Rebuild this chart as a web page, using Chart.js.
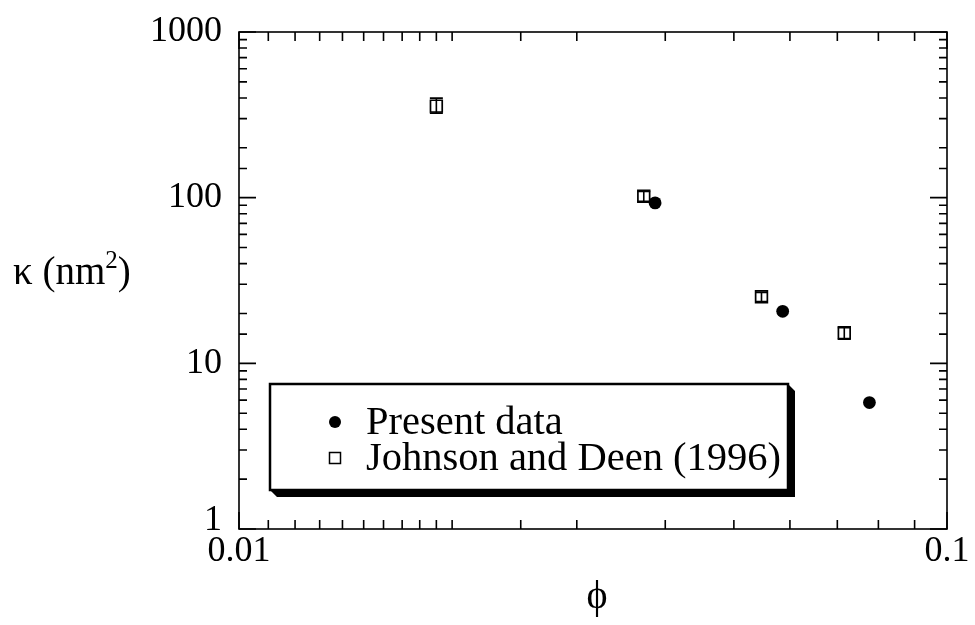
<!DOCTYPE html>
<html>
<head>
<meta charset="utf-8">
<script src="https://cdn.jsdelivr.net/npm/chart.js@4/dist/chart.umd.min.js"></script>
<style>
  html, body { margin: 0; padding: 0; background: #fff; }
  canvas { display: block; }
</style>
</head>
<body>
<canvas id="chart" width="975" height="625"></canvas>
<script>
// ---------------------------------------------------------------------------
// Data
// ---------------------------------------------------------------------------
const presentPhi   = [0.0387, 0.0586, 0.0777];
const presentKappa = [93, 20.6, 5.8];

const jdPhi        = [0.0190, 0.0373, 0.0547, 0.0716];
const jdKappa      = [357, 102, 25.2, 15.3];
const jdKappaLow   = [324, 95, 23.6, 14.0];
const jdKappaHigh  = [399, 109, 26.8, 16.4];

const xTickValues = [0.01, 0.1];
const xTickLabels = ["0.01", "0.1"];
const yTickValues = [1, 10, 100, 1000];
const yTickLabels = ["1", "10", "100", "1000"];

const legendLabels = ["Present data", "Johnson and Deen (1996)"];

const SERIF = '"Liberation Serif", "DejaVu Serif", serif';
const INK = "#000";

const toXY = (xs, ys) => xs.map((x, i) => ({ x, y: ys[i] }));

// ---------------------------------------------------------------------------
// Plugins: frame with inward ticks, labels, error bars, boxed legend
// ---------------------------------------------------------------------------
const isDecade = v => Math.abs(Math.log10(v) - Math.round(Math.log10(v))) < 1e-9;

const framePlugin = {
  id: "frame",
  afterDraw(chart) {
    const { ctx, chartArea: a, scales: { x, y } } = chart;
    ctx.save();
    ctx.strokeStyle = INK;
    ctx.lineWidth = 1.6;
    ctx.strokeRect(a.left, a.top, a.right - a.left, a.bottom - a.top);

    ctx.beginPath();
    x.ticks.forEach(t => {
      const px = x.getPixelForValue(t.value);
      const len = isDecade(t.value) ? 17 : 9;
      ctx.moveTo(px, a.bottom); ctx.lineTo(px, a.bottom - len);
      ctx.moveTo(px, a.top);    ctx.lineTo(px, a.top + len);
    });
    y.ticks.forEach(t => {
      const py = y.getPixelForValue(t.value);
      const len = isDecade(t.value) ? 17 : 8;
      ctx.moveTo(a.left, py);  ctx.lineTo(a.left + len, py);
      ctx.moveTo(a.right, py); ctx.lineTo(a.right - len, py);
    });
    ctx.stroke();

    // tick labels
    ctx.fillStyle = INK;
    ctx.font = `36px ${SERIF}`;
    ctx.textAlign = "right";
    ctx.textBaseline = "middle";
    yTickValues.forEach((v, i) => {
      let py = y.getPixelForValue(v);
      if (v === 1) py -= 8; // nudged up, clear of the x label
      ctx.fillText(yTickLabels[i], a.left - 17, py);
    });
    ctx.textAlign = "center";
    ctx.textBaseline = "top";
    xTickValues.forEach((v, i) => {
      ctx.fillText(xTickLabels[i], x.getPixelForValue(v), a.bottom + 5);
    });

    // axis titles
    ctx.textBaseline = "alphabetic";
    ctx.textAlign = "left";
    ctx.font = `39px ${SERIF}`;
    let tx = 13;
    const ty = 284;
    ctx.fillText("\u03BA (nm", tx, ty);
    tx += ctx.measureText("\u03BA (nm").width;
    ctx.font = `25px ${SERIF}`;
    ctx.fillText("2", tx, ty - 16);
    tx += ctx.measureText("2").width;
    ctx.font = `39px ${SERIF}`;
    ctx.fillText(")", tx, ty);

    ctx.textAlign = "center";
    ctx.textBaseline = "middle";
    ctx.font = `40px ${SERIF}`;
    ctx.fillText("\u03D5", (a.left + a.right) / 2 + 4, 597);
    ctx.restore();
  },
};

const errorBarPlugin = {
  id: "errorBars",
  beforeDatasetsDraw(chart) {
    const { ctx, scales: { x, y } } = chart;
    ctx.save();
    ctx.strokeStyle = INK;
    ctx.lineWidth = 1.6;
    ctx.beginPath();
    jdPhi.forEach((phi, i) => {
      const px = x.getPixelForValue(phi);
      const lo = y.getPixelForValue(jdKappaLow[i]);
      const hi = y.getPixelForValue(jdKappaHigh[i]);
      ctx.moveTo(px, lo); ctx.lineTo(px, hi);
      ctx.moveTo(px - 6.5, lo); ctx.lineTo(px + 6.5, lo);
      ctx.moveTo(px - 6.5, hi); ctx.lineTo(px + 6.5, hi);
    });
    ctx.stroke();
    ctx.restore();
  },
};

const boxLegendPlugin = {
  id: "boxLegend",
  afterDraw(chart) {
    const { ctx } = chart;
    const L = 270, T = 384, R = 788, B = 490, S = 7;
    ctx.save();
    // drop shadow (right and bottom, bevelled ends)
    ctx.fillStyle = INK;
    ctx.beginPath();
    ctx.moveTo(R, T);
    ctx.lineTo(R + S, T + S);
    ctx.lineTo(R + S, B + S);
    ctx.lineTo(L + S, B + S);
    ctx.lineTo(L, B);
    ctx.lineTo(R, B);
    ctx.closePath();
    ctx.fill();
    // box
    ctx.fillStyle = "#fff";
    ctx.fillRect(L, T, R - L, B - T);
    ctx.strokeStyle = INK;
    ctx.lineWidth = 2.5;
    ctx.strokeRect(L, T, R - L, B - T);

    // markers
    const mx = 335, rows = [422, 458];
    ctx.fillStyle = INK;
    ctx.beginPath();
    ctx.arc(mx, rows[0], 6, 0, Math.PI * 2);
    ctx.fill();
    ctx.lineWidth = 1.5;
    ctx.strokeRect(mx - 5.5, rows[1] - 5.5, 11, 11);

    ctx.font = `40.5px ${SERIF}`;
    ctx.textAlign = "left";
    ctx.textBaseline = "middle";
    legendLabels.forEach((lbl, i) => ctx.fillText(lbl, 366, rows[i] + 1));
    ctx.restore();
  },
};

// ---------------------------------------------------------------------------
// Chart
// ---------------------------------------------------------------------------
new Chart(document.getElementById("chart"), {
  type: "scatter",
  data: {
    datasets: [
      {
        label: legendLabels[0],
        data: toXY(presentPhi, presentKappa),
        pointStyle: "circle",
        pointRadius: 6.4,
        pointHoverRadius: 6.4,
        backgroundColor: INK,
        borderColor: INK,
        borderWidth: 0,
        order: 0,
      },
      {
        label: legendLabels[1],
        data: toXY(jdPhi, jdKappa),
        pointStyle: "rect",
        pointRadius: 8.3,
        pointHoverRadius: 8.3,
        backgroundColor: "rgba(0,0,0,0)",
        borderColor: INK,
        borderWidth: 1.7,
        order: 1,
      },
    ],
  },
  options: {
    responsive: false,
    animation: false,
    devicePixelRatio: 1,
    layout: { padding: { left: 0, top: 32, right: 28, bottom: 0 } },
    plugins: {
      legend: { display: false },
      tooltip: { enabled: false },
    },
    scales: {
      x: {
        type: "logarithmic",
        min: 0.01,
        max: 0.1,
        grid: { display: false, drawTicks: false },
        border: { display: false },
        ticks: { display: false },
        afterFit: s => { s.height = 96; },
      },
      y: {
        type: "logarithmic",
        min: 1,
        max: 1000,
        grid: { display: false, drawTicks: false },
        border: { display: false },
        ticks: { display: false },
        afterFit: s => { s.width = 239; },
      },
    },
  },
  plugins: [errorBarPlugin, framePlugin, boxLegendPlugin],
});
</script>
</body>
</html>
